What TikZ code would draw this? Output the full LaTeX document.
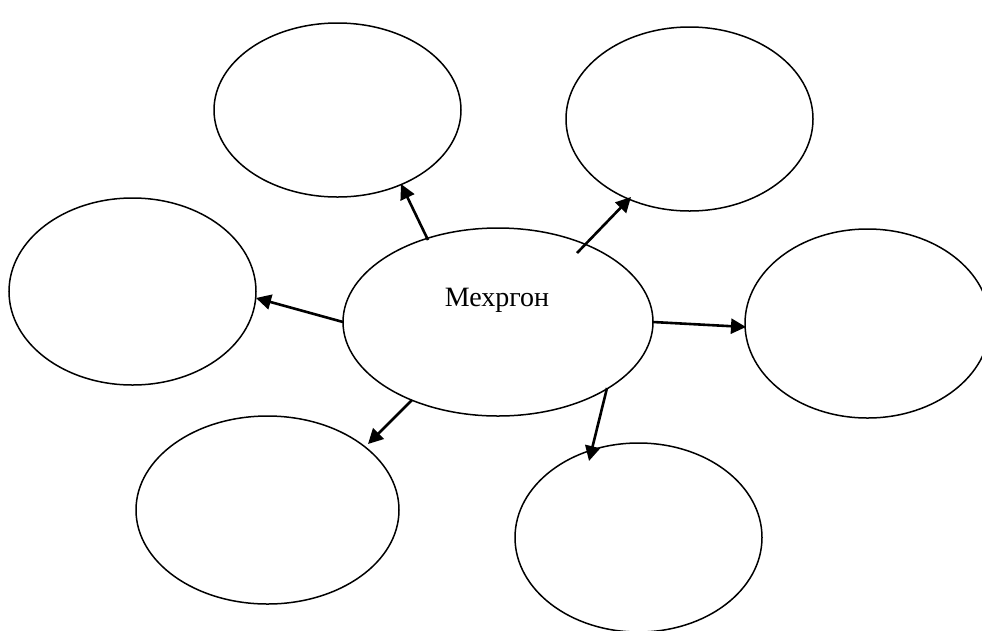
\documentclass[tikz,border=0pt]{standalone}
\usepackage{fontspec}
\setmainfont{Liberation Serif}
\usetikzlibrary{shapes.geometric,arrows.meta}
\begin{document}
\begin{tikzpicture}[x=1pt,y=-1pt,
  bubble/.style={draw,ellipse,line width=1.5pt,inner sep=0pt},
  link/.style={line width=2.6pt,-{Triangle[length=15pt,width=15pt]}}]
\useasboundingbox (0,0) rectangle (982,630);
\clip (0,0) rectangle (982,630);
\node[bubble,minimum width=310pt,minimum height=188pt] (c) at (498,322) {};
\node[font=\fontsize{28}{32}\selectfont,inner sep=0pt] (ctext) at (497,300) {Мехргон};
\node[bubble,minimum width=247pt,minimum height=174pt] (tl) at (337.5,110) {};
\node[bubble,minimum width=247pt,minimum height=184pt] (tr) at (689.5,119) {};
\node[bubble,minimum width=247pt,minimum height=187pt] (l) at (132.5,291.5) {};
\node[bubble,minimum width=245pt,minimum height=189pt] (r) at (867.5,323.5) {};
\node[bubble,minimum width=263pt,minimum height=188pt] (bl) at (267.5,510) {};
\node[bubble,minimum width=247pt,minimum height=189pt] (br) at (638.5,537.5) {};
\coordinate (s1) at (428,240); \coordinate (e1) at (401,184);
\coordinate (s2) at (577,253); \coordinate (e2) at (631,197);
\coordinate (s3) at (653,322); \coordinate (e3) at (746,327);
\coordinate (s4) at (343,322); \coordinate (e4) at (256,298);
\coordinate (s5) at (412,400); \coordinate (e5) at (368,444);
\coordinate (s6) at (607,388); \coordinate (e6) at (589,461);
\draw[link] (s1) -- (e1);
\draw[link] (s2) -- (e2);
\draw[link] (s3) -- (e3);
\draw[link] (s4) -- (e4);
\draw[link] (s5) -- (e5);
\draw[link] (s6) -- (e6);
\end{tikzpicture}
\end{document}
